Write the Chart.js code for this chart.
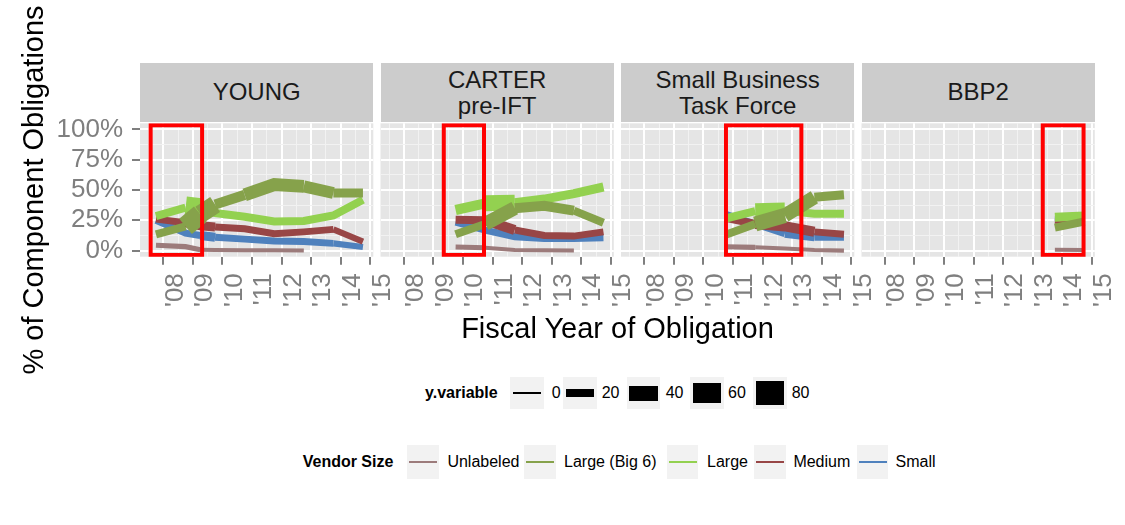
<!DOCTYPE html>
<html>
<head>
<meta charset="utf-8">
<script src="https://cdn.jsdelivr.net/npm/chart.js@4.4.1/dist/chart.umd.min.js"></script>
<style>
  html, body { margin: 0; padding: 0; background: #ffffff; }
  body { width: 1125px; height: 525px; overflow: hidden; position: relative;
         font-family: "Liberation Sans", Arial, Helvetica, sans-serif; }
  canvas { position: absolute; }
  .txt { position: absolute; white-space: pre; color: #000; }
  .strip { position: absolute; background: #CCCCCC; display: flex; align-items: center;
           justify-content: center; text-align: center; font-size: 24px; line-height: 26.5px;
           color: #1A1A1A; white-space: pre; }
  .key { position: absolute; background: #F2F2F2; }
  .keyline { position: absolute; }
</style>
</head>
<body>
<script>
// ---------------- DATA ----------------
const panelTitles = ["YOUNG", "CARTER\npre-IFT", "Small Business\nTask Force", "BBP2"];
const vendorSizes = ["Unlabeled", "Large (Big 6)", "Large", "Medium", "Small"];
const yearTicks = [2008, 2009, 2010, 2011, 2012, 2013, 2014, 2015];
const yTickValues = [0, 25, 50, 75, 100];
const sizeLegendValues = [0, 20, 40, 60, 80];

// highlighted period of each panel (fiscal-year time, % range)
const periodStart = [2007.57, 2009.35, 2010.76, 2013.34];
const periodEnd   = [2009.31, 2010.71, 2013.31, 2014.72];
const periodLow   = [-3.5, -3.5, -3.5, -3.5];
const periodHigh  = [103.4, 103.4, 103.4, 103.4];

// YOUNG
const youngYears         = [2007.75, 2008.75, 2009.25, 2009.75, 2010.75, 2011.75, 2012.75, 2013.75, 2014.75];
const youngUnlabeled     = [4.5, 3.3, 0.8, 0.5, 0.4, 0.3, 0.2];
const youngUnlabeledSize = [9, 9, 5, 5, 5, 5, 5];
const youngBig6          = [13.5, 20, 30, 38, 46, 54.5, 53, 47.5, 47.5];
const youngBig6Size      = [20, 60, 52, 26, 34, 34, 31, 23, 23];
const youngLarge         = [28.5, 35.5, 34, 31, 28, 24, 24.5, 29, 42];
const youngLargeSize     = [20, 72, 20, 20, 20, 20, 20, 20, 20];
const youngMedium        = [26, 23, 20.5, 19.5, 18, 14, 15.5, 17.5, 7.5];
const youngMediumSize    = [16, 23, 23, 16, 16, 16, 16, 13, 13];
const youngSmall         = [25, 14.5, 12.5, 11, 9.5, 8, 7.5, 6, 3];
const youngSmallSize     = [16, 16, 23, 16, 16, 16, 16, 13, 13];

// CARTER pre-IFT
const carterYears         = [2009.75, 2010.75, 2011.75, 2012.75, 2013.75, 2014.75];
const carterUnlabeled     = [3, 2.4, 0.6, 0.4, 0.2];
const carterUnlabeledSize = [9, 5, 5, 5, 5];
const carterBig6          = [13.5, 22, 35, 37, 33, 23];
const carterBig6Size      = [20, 37, 26, 26, 20, 20];
const carterLarge         = [33.5, 39, 39.5, 42.5, 47, 52.5];
const carterLargeSize     = [26, 44, 23, 23, 23, 23];
const carterMedium        = [25.5, 25, 17, 12.5, 12, 15.5];
const carterMediumSize    = [20, 26, 16, 16, 16, 16];
const carterSmall         = [23.5, 17, 11.5, 10, 10, 10.5];
const carterSmallSize     = [16, 16, 16, 16, 16, 16];

// Small Business Task Force
const sbtfYears         = [2010.75, 2011.75, 2012.75, 2013.75, 2014.75];
const sbtfUnlabeled     = [3.2, 2.7, 1.8, 0.5, 0];
const sbtfUnlabeledSize = [9, 5, 5, 5, 5];
const sbtfBig6          = [13, 22, 29, 44, 46];
const sbtfBig6Size      = [20, 40, 37, 23, 23];
const sbtfLarge         = [26.5, 32.5, 33, 30.5, 30.5];
const sbtfLargeSize     = [20, 44, 20, 20, 20];
const sbtfMedium        = [27, 22, 20, 15.5, 13.5];
const sbtfMediumSize    = [20, 26, 26, 16, 16];
const sbtfSmall         = [30, 22, 14, 11, 11];
const sbtfSmallSize     = [16, 16, 20, 16, 16];

// BBP2
const bbp2Years         = [2013.75, 2014.75];
const bbp2Unlabeled     = [0.8, 0.6];
const bbp2UnlabeledSize = [5, 5];
const bbp2Big6          = [19, 24];
const bbp2Big6Size      = [20, 20];
const bbp2Large         = [27.5, 28.5];
const bbp2LargeSize     = [23, 23];
const bbp2Medium        = [25, 24];
const bbp2MediumSize    = [16, 16];
const bbp2Small         = [27.5, 26];
const bbp2SmallSize     = [16, 16];

// ---------------- STYLE ----------------
const FONT = '"Liberation Sans", Arial, Helvetica, sans-serif';
const vendorColors = ["#9C7B7B", "#86A24B", "#93D150", "#984646", "#4F81BD"];
const sizeLegendWidths = [2.7, 8, 15, 20, 24];
const panelLeft = [140, 380.5, 621, 861.5];
const panelW = 233.3;
const CANVAS_TOP = 100, PAD_TOP = 23.3, PLOT_H = 133.4, CANVAS_H = 230;

function sizeToWidth(v) {
  const xs = sizeLegendValues, ws = sizeLegendWidths;
  if (v <= xs[0]) return ws[0];
  for (let k = 1; k < xs.length; k++) {
    if (v <= xs[k]) {
      const t = (v - xs[k - 1]) / (xs[k] - xs[k - 1]);
      return ws[k - 1] + t * (ws[k] - ws[k - 1]);
    }
  }
  return ws[ws.length - 1];
}

const panelSeries = [
  { years: youngYears, vals: [youngUnlabeled, youngBig6, youngLarge, youngMedium, youngSmall],
    sizes: [youngUnlabeledSize, youngBig6Size, youngLargeSize, youngMediumSize, youngSmallSize] },
  { years: carterYears, vals: [carterUnlabeled, carterBig6, carterLarge, carterMedium, carterSmall],
    sizes: [carterUnlabeledSize, carterBig6Size, carterLargeSize, carterMediumSize, carterSmallSize] },
  { years: sbtfYears, vals: [sbtfUnlabeled, sbtfBig6, sbtfLarge, sbtfMedium, sbtfSmall],
    sizes: [sbtfUnlabeledSize, sbtfBig6Size, sbtfLargeSize, sbtfMediumSize, sbtfSmallSize] },
  { years: bbp2Years, vals: [bbp2Unlabeled, bbp2Big6, bbp2Large, bbp2Medium, bbp2Small],
    sizes: [bbp2UnlabeledSize, bbp2Big6Size, bbp2LargeSize, bbp2MediumSize, bbp2SmallSize] }
];

const xGridValues = [];
for (let v = 2007.5; v <= 2015.001; v += 0.5) xGridValues.push(v);
const yGridValues = [];
for (let v = 0; v <= 100.001; v += 12.5) yGridValues.push(v);

const isMajorX = v => yearTicks.includes(v);
const isMajorY = v => yTickValues.includes(v);

const bgPlugin = {
  id: 'panelBg',
  beforeDraw(chart) {
    const { ctx, chartArea: a } = chart;
    ctx.save();
    ctx.fillStyle = '#E5E5E5';
    ctx.fillRect(a.left, a.top, a.right - a.left, a.bottom - a.top);
    ctx.restore();
  }
};

panelSeries.forEach((p, i) => {
  const L = panelLeft[i], R = panelLeft[i] + panelW;
  const canvasLeft = i === 0 ? 0 : Math.floor(L);
  const padL = i === 0 ? 0 : L - canvasLeft;
  const yW = i === 0 ? L : 0;
  const W = Math.ceil(R + 30 - canvasLeft);
  const padR = W - (R - canvasLeft);

  const c = document.createElement('canvas');
  c.width = W; c.height = CANVAS_H;
  c.style.left = canvasLeft + 'px'; c.style.top = CANVAS_TOP + 'px';
  c.style.width = W + 'px'; c.style.height = CANVAS_H + 'px';
  document.body.appendChild(c);

  const datasets = [];
  // highlighted period rectangle (on top)
  datasets.push({
    label: 'period',
    data: [
      { x: periodStart[i], y: periodLow[i] }, { x: periodStart[i], y: periodHigh[i] },
      { x: periodEnd[i], y: periodHigh[i] }, { x: periodEnd[i], y: periodLow[i] },
      { x: periodStart[i], y: periodLow[i] }
    ],
    borderColor: '#FF0000', borderWidth: 4, borderCapStyle: 'square', borderJoinStyle: 'miter',
    pointRadius: 0, fill: false, tension: 0
  });
  p.vals.forEach((vals, s) => {
    const sizes = p.sizes[s];
    datasets.push({
      label: vendorSizes[s],
      data: vals.map((v, k) => ({ x: p.years[k], y: v })),
      borderColor: vendorColors[s],
      borderWidth: sizeToWidth(sizes[0]),
      borderCapStyle: 'butt', borderJoinStyle: 'miter',
      pointRadius: 0, fill: false, tension: 0,
      segment: { borderWidth: ctx => sizeToWidth(sizes[ctx.p0DataIndex]) }
    });
  });

  new Chart(c, {
    type: 'line',
    data: { datasets },
    plugins: [bgPlugin],
    options: {
      responsive: false, animation: false, devicePixelRatio: 1,
      layout: { padding: { left: padL, right: padR, top: PAD_TOP, bottom: 0 } },
      plugins: { legend: { display: false }, tooltip: { enabled: false }, title: { display: false } },
      events: [],
      scales: {
        x: {
          type: 'linear', min: 2007.21, max: 2015.10,
          afterBuildTicks: sc => { sc.ticks = xGridValues.map(v => ({ value: v })); },
          afterFit: sc => { sc.height = CANVAS_H - PAD_TOP - PLOT_H; sc.paddingLeft = 0; sc.paddingRight = 0; },
          ticks: {
            autoSkip: false, maxRotation: 90, minRotation: 90, padding: 8.5, labelOffset: 12,
            color: '#7F7F7F', font: { family: FONT, size: 26 },
            callback: v => isMajorX(v) ? "'" + String(v).slice(2) : ''
          },
          grid: {
            color: ctx => isMajorX(ctx.tick.value) ? '#FFFFFF' : '#F2F2F2',
            lineWidth: ctx => isMajorX(ctx.tick.value) ? 2 : 1,
            drawTicks: true, tickLength: 8, tickWidth: 2,
            tickColor: ctx => isMajorX(ctx.tick.value) ? '#7F7F7F' : 'rgba(0,0,0,0)'
          },
          border: { display: false }
        },
        y: {
          type: 'linear', min: -5, max: 105,
          afterBuildTicks: sc => { sc.ticks = yGridValues.map(v => ({ value: v })); },
          afterFit: sc => { sc.width = yW; sc.paddingTop = 0; sc.paddingBottom = 0; },
          ticks: {
            display: i === 0, padding: 9, autoSkip: false,
            color: '#7F7F7F', font: { family: FONT, size: 26 },
            callback: v => isMajorY(v) ? v + '%' : ''
          },
          grid: {
            color: ctx => isMajorY(ctx.tick.value) ? '#FFFFFF' : '#F2F2F2',
            lineWidth: ctx => isMajorY(ctx.tick.value) ? 2 : 1,
            drawTicks: i === 0, tickLength: 8, tickWidth: 2,
            tickColor: ctx => isMajorY(ctx.tick.value) ? '#7F7F7F' : 'rgba(0,0,0,0)'
          },
          border: { display: false }
        }
      }
    }
  });

  // strip
  const st = document.createElement('div');
  st.className = 'strip';
  st.style.left = L + 'px'; st.style.width = panelW + 'px';
  st.style.top = '63.3px'; st.style.height = '58.4px';
  const inner = document.createElement('div');
  inner.textContent = panelTitles[i];
  if (panelTitles[i].includes('\n')) inner.style.transform = 'translateY(1.2px)';
  st.appendChild(inner);
  document.body.appendChild(st);
});

// ---------------- TEXT & LEGENDS ----------------
function addText(txt, left, cy, size, opts = {}) {
  const d = document.createElement('div');
  d.className = 'txt';
  d.textContent = txt;
  const h = size * 2;
  let css = `left:${left}px;top:${cy - h / 2}px;height:${h}px;line-height:${h}px;font-size:${size}px;`;
  if (opts.bold) css += 'font-weight:bold;';
  if (opts.width) css += `width:${opts.width}px;text-align:center;`;
  if (opts.color) css += `color:${opts.color};`;
  d.style.cssText += css;
  document.body.appendChild(d);
  return d;
}

// axis titles
addText('Fiscal Year of Obligation', 617.5 - 250, 327.5, 29, { width: 500 });
const yt = addText('% of Component Obligations', 33.4 - 250, 190, 29, { width: 500 });
yt.style.transform = 'rotate(-90deg)';

// size legend
addText('y.variable', 425, 393, 16, { bold: true });
const sizeKeyLeft = [510, 563.3, 626.7, 690, 753];
const sizeLabelLeft = [551.7, 601.7, 665.7, 728, 791.7];
sizeLegendValues.forEach((v, k) => {
  const kb = document.createElement('div');
  kb.className = 'key';
  kb.style.cssText += `left:${sizeKeyLeft[k]}px;top:376.7px;width:33.5px;height:32.5px;`;
  document.body.appendChild(kb);
  const w = sizeToWidth(v);
  const ln = document.createElement('div');
  ln.className = 'keyline';
  ln.style.cssText += `left:${sizeKeyLeft[k] + 2.5}px;top:${393 - w / 2}px;width:28.5px;height:${w}px;background:#000;`;
  document.body.appendChild(ln);
  addText(String(v), sizeLabelLeft[k], 393, 16);
});

// colour legend
addText('Vendor Size', 302.7, 462, 16, { bold: true });
const colKeyLeft = [407.3, 524, 666.8, 754, 856.7];
const colLabelLeft = [447.4, 564, 707, 793.4, 895.5];
vendorSizes.forEach((name, k) => {
  const kb = document.createElement('div');
  kb.className = 'key';
  kb.style.cssText += `left:${colKeyLeft[k]}px;top:445px;width:31.5px;height:34px;`;
  document.body.appendChild(kb);
  const ln = document.createElement('div');
  ln.className = 'keyline';
  ln.style.cssText += `left:${colKeyLeft[k] + 2}px;top:${462 - 1.25}px;width:28px;height:2.5px;background:${vendorColors[k]};`;
  document.body.appendChild(ln);
  addText(name, colLabelLeft[k], 462, 16);
});
</script>
</body>
</html>
